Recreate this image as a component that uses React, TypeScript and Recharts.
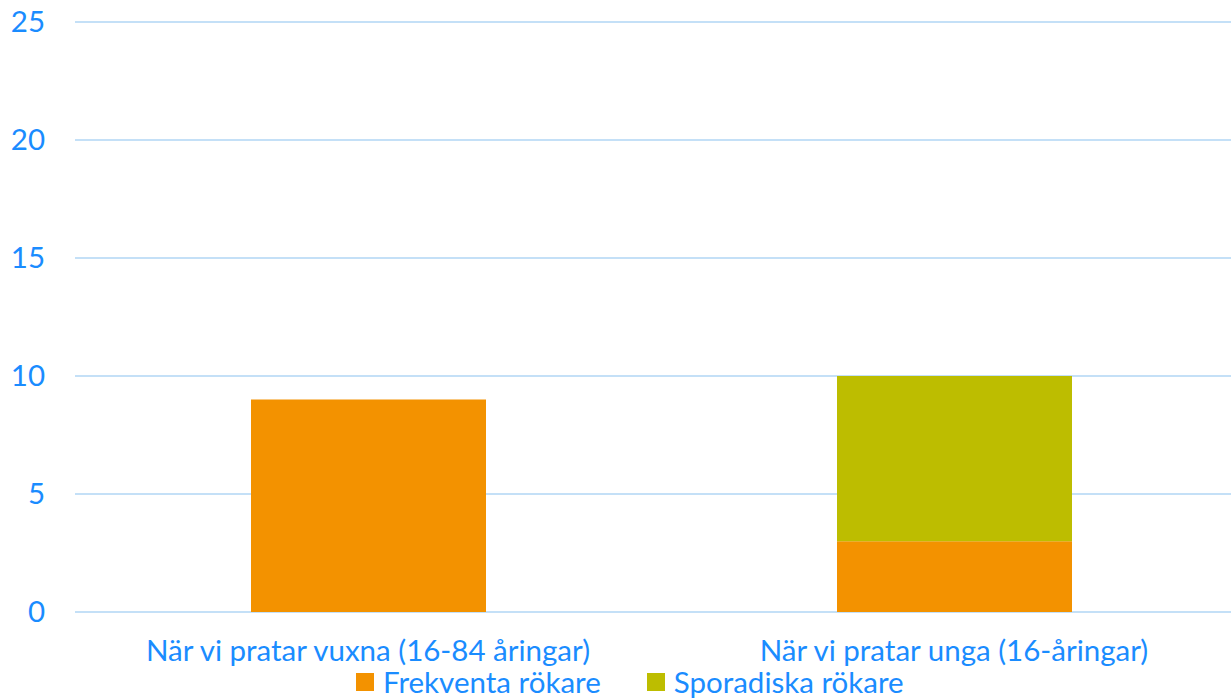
import React from "react"
import { BarChart, Bar, XAxis, YAxis, CartesianGrid, Legend } from "recharts"

const categories = ["När vi pratar vuxna (16-84 åringar)", "När vi pratar unga (16-åringar)"]
const frekventa = [9, 3]
const sporadiska = [0, 7]
const yTicks = [0, 5, 10, 15, 20, 25]

const data = categories.map((name, i) => ({
	name,
	frekventa: frekventa[i],
	sporadiska: sporadiska[i],
}))

const BLUE = "#1a8cff"
const FONT = "Lato, 'Open Sans', sans-serif"

const renderLegend = (props: any) => {
	const { payload } = props
	return (
		<div style={{ display: "flex", fontSize: 29.5, lineHeight: "30px", color: BLUE }}>
			{payload.map((p: any, i: number) => (
				<div key={i} style={{ display: "flex", alignItems: "center", marginRight: i === 0 ? 46 : 0 }}>
					<span style={{ display: "inline-block", width: 18, height: 18, background: p.color, marginRight: 9 }} />
					<span>{p.value}</span>
				</div>
			))}
		</div>
	)
}

export default function App() {
	return (
		<div style={{ position: "fixed", left: 0, top: 0, width: 1231, height: 700, overflow: "hidden", background: "#fff" }}>
			<BarChart
				width={1247}
				height={700}
				data={data}
				margin={{ top: 22, right: 0, left: 0, bottom: 0 }}
				barSize={235}
				style={{ fontFamily: FONT }}
			>
				<CartesianGrid vertical={false} stroke="#c4e0f7" strokeWidth={2} />
				<XAxis
					dataKey="name"
					axisLine={false}
					tickLine={false}
					height={58}
					tickMargin={22}
					interval={0}
					tick={{ fill: BLUE, fontSize: 29.5 }}
				/>
				<YAxis
					width={75}
					domain={[0, 25]}
					ticks={yTicks}
					axisLine={false}
					tickLine={false}
					tickMargin={24}
					tick={{ fill: BLUE, fontSize: 29.5 }}
				/>
				<Legend
					verticalAlign="bottom"
					content={renderLegend}
					wrapperStyle={{ left: 356, width: 700, bottom: 3 }}
				/>
				<Bar dataKey="frekventa" name="Frekventa rökare" stackId="a" fill="#f39200" isAnimationActive={false} />
				<Bar dataKey="sporadiska" name="Sporadiska rökare" stackId="a" fill="#bdbd00" isAnimationActive={false} />
			</BarChart>
		</div>
	)
}
